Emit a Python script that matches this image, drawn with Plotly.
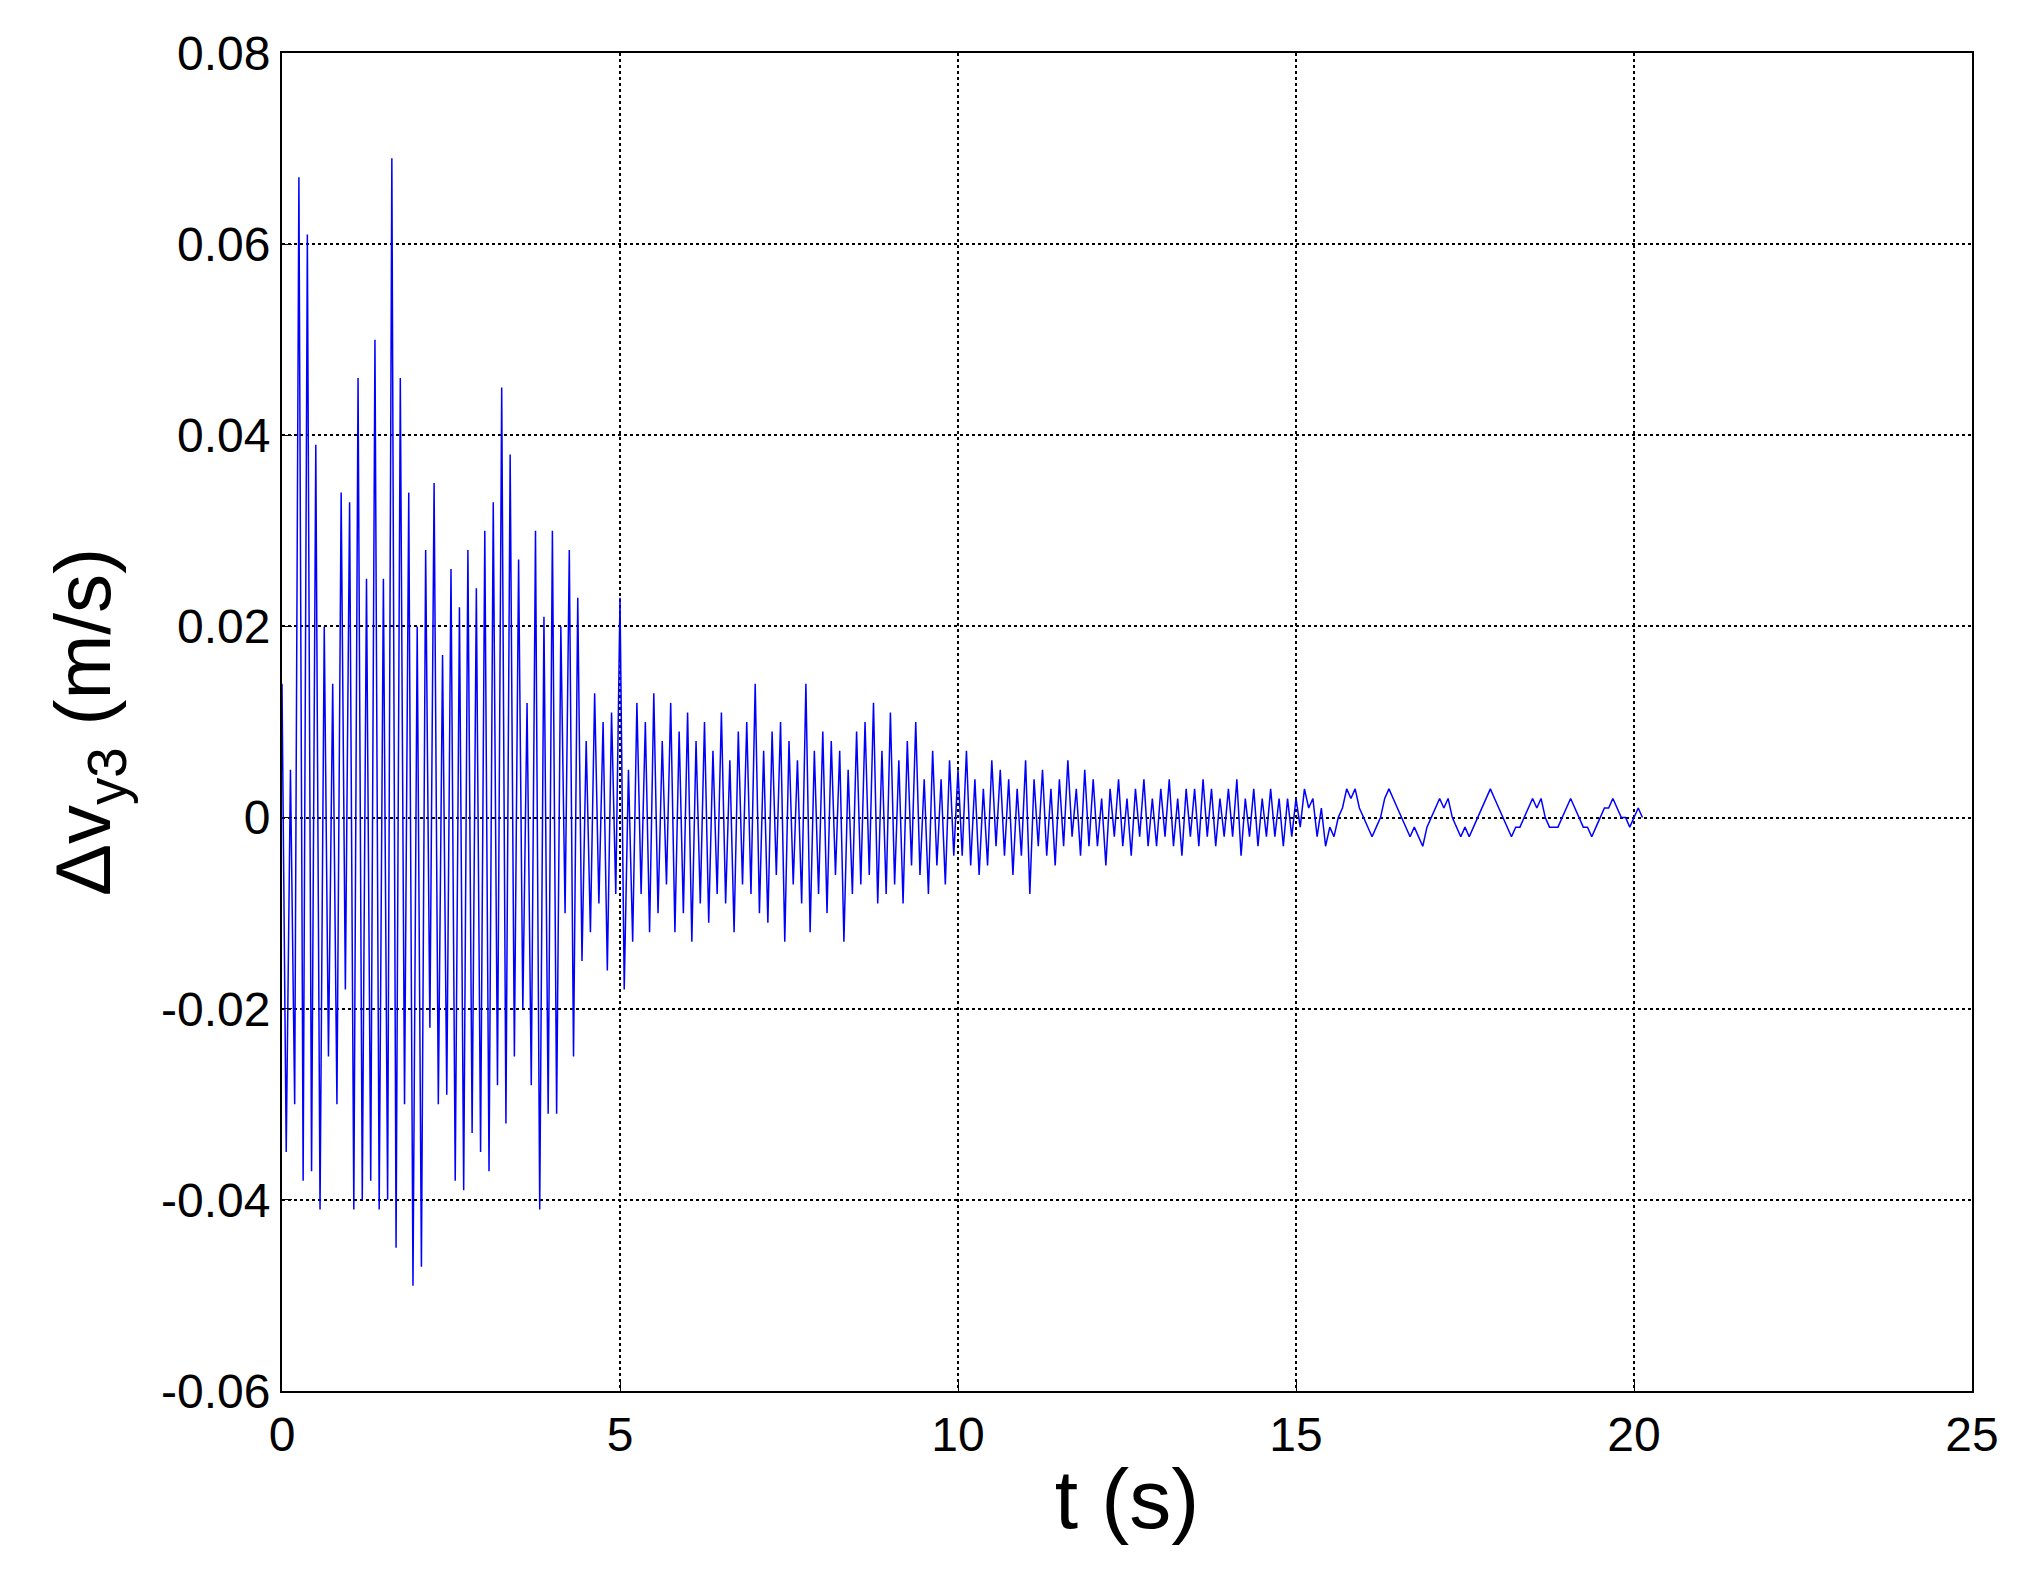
import numpy as np
import plotly.graph_objects as go

# sampled response, in mm/s, one value every dt seconds
dt = 0.0625
dv_mm = [
    14, -35, 5, -30, 67, -38, 61, -37, 39, -41, 20, -25, 14, -30, 34, -18,
    33, -41, 46, -40, 25, -38, 50, -41, 25, -40, 69, -45, 46, -30, 34, -49,
    20, -47, 28, -22, 35, -30, 17, -29, 26, -38, 22, -39, 28, -33, 24, -35,
    30, -37, 33, -28, 45, -32, 38, -25, 27, -20, 12, -28, 30, -41, 21, -31,
    30, -31, 20, -10, 28, -25, 23, -15, 8, -12, 13, -9, 10, -16, 11, -8,
    23, -18, 5, -13, 12, -8, 10, -12, 13, -10, 8, -7, 12, -12, 9, -10,
    11, -13, 8, -9, 10, -11, 7, -8, 11, -9, 6, -12, 9, -7, 10, -8,
    14, -10, 7, -11, 9, -6, 10, -13, 8, -7, 6, -9, 14, -12, 7, -8,
    9, -10, 8, -6, 7, -13, 5, -8, 9, -7, 10, -6, 12, -9, 7, -8,
    11, -7, 6, -9, 8, -5, 10, -6, 4, -8, 7, -5, 4, -7, 6, -4,
    5, -4, 7, -5, 4, -6, 3, -5, 6, -3, 5, -4, 4, -6, 3, -4,
    6, -8, 4, -3, 5, -4, 3, -5, 4, -3, 6, -2, 3, -4, 5, -3,
    4, -3, 2, -5, 3, -2, 4, -3, 2, -4, 3, -2, 4, -3, 2, -3,
    3, -2, 4, -3, 2, -4, 3, -2, 3, -3, 4, -2, 3, -3, 2, -2,
    3, -2, 4, -4, 2, -2, 3, -3, 2, -2, 3, -2, 2, -3, 2, -2,
    2, -1, 3, 1, 2, -2, 1, -3, -1, -2, 0, 1, 3, 2, 3, 1,
    0, -1, -2, -1, 0, 2, 3, 2, 1, 0, -1, -2, -1, -2, -3, -1,
    0, 1, 2, 1, 2, 0, -1, -2, -1, -2, -1, 0, 1, 2, 3, 2,
    1, 0, -1, -2, -1, -1, 0, 1, 2, 1, 2, 0, -1, -1, -1, 0,
    1, 2, 1, 0, -1, -1, -2, -1, 0, 1, 1, 2, 1, 0, 0, -1,
    0, 1, 0,
]
y_ticks = [-0.06, -0.04, -0.02, 0, 0.02, 0.04, 0.06, 0.08]
y_labels = ['-0.06', '-0.04', '-0.02', '0', '0.02', '0.04', '0.06', '0.08']

t = np.arange(len(dv_mm)) * dt
dv = np.array(dv_mm) / 1000.0

fig = go.Figure(go.Scatter(x=t, y=dv, mode='lines',
                           line=dict(color='#0000ff', width=1.5)))

axis_style = dict(showline=True, linecolor='black', linewidth=2, mirror=True,
                  showgrid=True, gridcolor='black', griddash='dot', gridwidth=1.5,
                  ticks='inside', ticklen=10, tickcolor='black', zeroline=False,
                  tickfont=dict(family='Arial, Liberation Sans', size=48, color='black'))

fig.update_layout(
    width=2026, height=1575,
    plot_bgcolor='white', paper_bgcolor='white',
    margin=dict(l=274, r=62, t=45, b=192),
    showlegend=False,
    xaxis=dict(range=[0, 25], dtick=5,
               title=dict(text='t (s)', font=dict(family='Arial, Liberation Sans', size=84, color='black'),
                          standoff=10),
               **axis_style),
    yaxis=dict(range=[-0.06, 0.08], tickvals=y_ticks, ticktext=y_labels,
               title=dict(text='Δv<sub>y3</sub> (m/s)',
                          font=dict(family='Arial, Liberation Sans', size=78, color='black'),
                          standoff=25),
               **axis_style),
)

fig.write_html("out.html")
